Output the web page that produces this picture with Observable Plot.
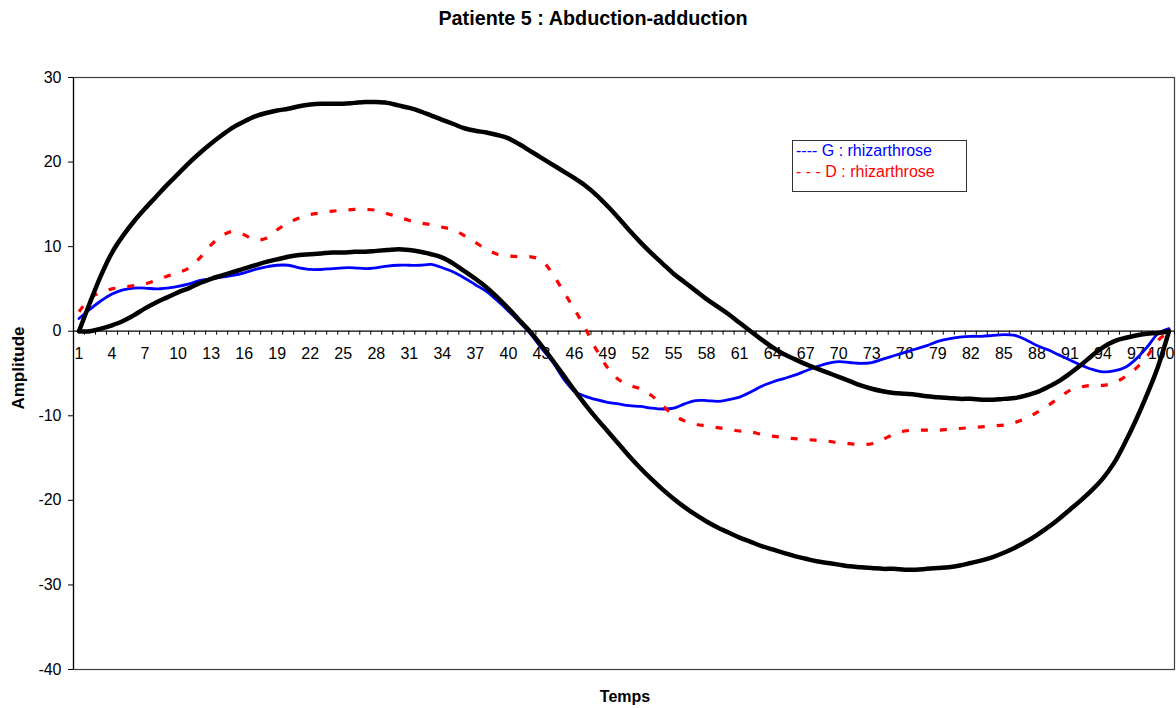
<!DOCTYPE html>
<html>
<head>
<meta charset="utf-8">
<script src="https://cdn.jsdelivr.net/npm/d3@7"></script>
<script src="https://cdn.jsdelivr.net/npm/@observablehq/plot@0.6"></script>
<style>
  html, body { margin: 0; padding: 0; background: #fff; }
  #wrap { position: relative; width: 1176px; height: 708px; font-family: "Liberation Sans", Arial, sans-serif; overflow: hidden; }
  #wrap svg { position: absolute; left: 0; top: 0; }
  .title { position: absolute; left: 0; top: 7px; width: 1186px; text-align: center; font-weight: bold; font-size: 19.8px; color: #000; }
  .ylab { position: absolute; left: 19px; top: 368px; transform: translate(-50%, -50%) rotate(-90deg); font-weight: bold; font-size: 17px; white-space: nowrap; }
  .xlab { position: absolute; left: 625px; top: 697px; transform: translate(-50%, -50%); font-weight: bold; font-size: 16px; white-space: nowrap; }
  .legend { position: absolute; left: 792px; top: 140px; width: 170px; height: 50px; border: 1.5px solid #333; background: #fff; font-size: 16px; line-height: 20.5px; padding: 0 0 0 3px; box-sizing: content-box; }
  .legend div { white-space: nowrap; }
</style>
</head>
<body>
<div id="wrap">
  <div class="title">Patiente 5 : Abduction-adduction</div>
  <div class="ylab">Amplitude</div>
  <div class="xlab">Temps</div>
</div>
<script>
// x categories (time, 1..100)
const temps = d3.range(1, 101);

// Normal upper bound (black)
const normeHaute = [
  0, 3.4, 6.6, 9.3, 11.3, 13.0, 14.5, 15.9, 17.3, 18.6,
  19.9, 21.1, 22.2, 23.2, 24.1, 24.8, 25.4, 25.8, 26.1, 26.3,
  26.6, 26.8, 26.9, 26.9, 26.9, 27.0, 27.1, 27.1, 27.0, 26.7,
  26.4, 26.0, 25.5, 25.0, 24.5, 24.0, 23.7, 23.5, 23.2, 22.8,
  22.1, 21.3, 20.5, 19.7, 18.9, 18.1, 17.2, 16.1, 14.8, 13.4,
  11.9, 10.5, 9.2, 8.0, 6.8, 5.8, 4.8, 3.8, 2.9, 2.0,
  1.0, 0.0, -1.0, -1.9, -2.7, -3.3, -3.9, -4.4, -4.9, -5.4,
  -5.9, -6.4, -6.8, -7.1, -7.3, -7.4, -7.5, -7.7, -7.8, -7.9,
  -8.0, -8.0, -8.1, -8.1, -8.0, -7.9, -7.6, -7.2, -6.6, -5.9,
  -5.0, -4.0, -2.9, -1.9, -1.2, -0.8, -0.5, -0.3, -0.2, 0
];

// Normal lower bound (black)
const normeBasse = [
  0, 0.0, 0.3, 0.7, 1.2, 1.9, 2.7, 3.4, 4.0, 4.6,
  5.1, 5.7, 6.2, 6.6, 7.0, 7.4, 7.8, 8.2, 8.5, 8.8,
  9.0, 9.1, 9.2, 9.3, 9.3, 9.4, 9.4, 9.5, 9.6, 9.7,
  9.6, 9.4, 9.1, 8.7, 8.0, 7.1, 6.2, 5.2, 4.0, 2.7,
  1.3, -0.1, -1.7, -3.4, -5.2, -7.0, -8.7, -10.3, -11.8, -13.3,
  -14.8, -16.2, -17.5, -18.7, -19.8, -20.8, -21.7, -22.5, -23.2, -23.8,
  -24.4, -24.9, -25.4, -25.8, -26.2, -26.6, -26.9, -27.2, -27.4, -27.6,
  -27.8, -27.9, -28.0, -28.1, -28.1, -28.2, -28.2, -28.1, -28.0, -27.9,
  -27.7, -27.4, -27.1, -26.7, -26.2, -25.6, -24.9, -24.1, -23.2, -22.2,
  -21.1, -20.0, -18.8, -17.4, -15.6, -13.2, -10.5, -7.5, -4.2, 0
];

// G : rhizarthrose (blue)
const gauche = [
  1.5, 2.6, 3.6, 4.4, 4.9, 5.1, 5.1, 5.0, 5.1, 5.3,
  5.6, 6.0, 6.2, 6.4, 6.6, 6.9, 7.3, 7.6, 7.8, 7.8,
  7.5, 7.3, 7.3, 7.4, 7.5, 7.5, 7.4, 7.5, 7.7, 7.8,
  7.8, 7.8, 7.9, 7.5, 7.0, 6.3, 5.5, 4.7, 3.6, 2.4,
  1.1, -0.3, -2.0, -3.6, -5.6, -7.1, -7.7, -8.1, -8.4, -8.6,
  -8.8, -8.9, -9.1, -9.2, -9.1, -8.6, -8.2, -8.2, -8.3, -8.1,
  -7.8, -7.2, -6.5, -6.0, -5.6, -5.2, -4.7, -4.2, -3.8, -3.6,
  -3.7, -3.8, -3.7, -3.3, -2.9, -2.5, -2.1, -1.7, -1.2, -0.9,
  -0.7, -0.6, -0.6, -0.5, -0.4, -0.5, -1.0, -1.7, -2.2, -2.8,
  -3.4, -4.0, -4.5, -4.8, -4.7, -4.3, -3.3, -1.9, -0.3, 0.3
];

// D : rhizarthrose (red, dashed)
const droite = [
  2.3, 3.9, 4.6, 5.0, 5.2, 5.4, 5.6, 6.0, 6.5, 6.9,
  7.5, 8.7, 10.2, 11.3, 11.8, 11.4, 10.8, 11.0, 12.0, 12.8,
  13.4, 13.8, 14.0, 14.2, 14.3, 14.4, 14.4, 14.3, 13.9, 13.5,
  13.1, 12.8, 12.6, 12.3, 12.0, 11.3, 10.5, 9.7, 9.1, 8.9,
  8.8, 8.8, 8.4, 6.8, 4.7, 2.6, 0.3, -2.2, -4.3, -5.7,
  -6.4, -6.8, -7.6, -8.8, -9.9, -10.6, -11.0, -11.2, -11.4, -11.6,
  -11.8, -11.9, -12.2, -12.4, -12.6, -12.7, -12.8, -12.9, -13.0, -13.2,
  -13.3, -13.4, -13.3, -12.8, -12.2, -11.8, -11.7, -11.7, -11.7, -11.6,
  -11.5, -11.4, -11.3, -11.2, -11.1, -10.8, -10.3, -9.6, -8.8, -7.9,
  -7.0, -6.6, -6.4, -6.4, -6.1, -5.4, -4.4, -3.0, -1.1, 0
];

const xTickLabels = [1, 4, 7, 10, 13, 16, 19, 22, 25, 28, 31, 34, 37, 40, 43, 46, 49, 52, 55, 58, 61, 64, 67, 70, 73, 76, 79, 82, 85, 88, 91, 94, 97, 100];
const yTicks = [-40, -30, -20, -10, 0, 10, 20, 30];
const seriesNames = ["G : rhizarthrose", "D : rhizarthrose"];

// category boundaries for the small x tick marks
const bounds = temps.map(t => t - 0.5).concat([temps[temps.length - 1] + 0.5]);
const lastLabel = xTickLabels.slice(-1);
const otherLabels = xTickLabels.slice(0, -1);

const chart = Plot.plot({
  width: 1176,
  height: 708,
  marginLeft: 73,
  marginRight: 2,
  marginTop: 77,
  marginBottom: 39,
  x: { domain: [0.5, 100.5], axis: null },
  y: { domain: [-40, 30], axis: null },
  style: { fontFamily: "'Liberation Sans', Arial, sans-serif", fontSize: "16px", color: "#000", background: "transparent", overflow: "visible" },
  marks: [
    Plot.frame({ stroke: "#404040", strokeWidth: 1.2 }),
    Plot.ruleX([0.5], { stroke: "#000", strokeWidth: 1.2 }),
    Plot.axisY({ ticks: yTicks, tickSize: 5, tickPadding: 7, label: null, fontSize: 16, stroke: "#000", tickFormat: d => String(d) }),
    Plot.ruleY([0], { stroke: "#000", strokeWidth: 1.2 }),
    Plot.ruleX(bounds, { x: d => d, y1: 0, y2: 0, insetBottom: -4, stroke: "#000", strokeWidth: 1 }),
    Plot.text(otherLabels, { x: d => d, y: 0, dy: 23, text: d => String(d), fontSize: 16, fill: "#000" }),
    Plot.text(lastLabel, { x: d => d, y: 0, dy: 23, dx: -8, text: d => String(d), fontSize: 16, fill: "#000" }),
    Plot.line(temps, { x: temps, y: gauche, stroke: "#0000ff", strokeWidth: 2.8, curve: "catmull-rom" }),
    Plot.line(temps, { x: temps, y: droite, stroke: "#ff0000", strokeWidth: 3.2, strokeDasharray: "7,12", strokeLinecap: "butt", curve: "catmull-rom" }),
    Plot.line(temps, { x: temps, y: normeHaute, stroke: "#000", strokeWidth: 4.5, curve: "catmull-rom" }),
    Plot.line(temps, { x: temps, y: normeBasse, stroke: "#000", strokeWidth: 4.5, curve: "catmull-rom" })
  ]
});

const wrap = document.getElementById("wrap");
wrap.insertBefore(chart, wrap.firstChild);

const legend = document.createElement("div");
legend.className = "legend";
legend.innerHTML =
  '<div style="color:#0000ff">---- ' + seriesNames[0] + '</div>' +
  '<div style="color:#ff0000">- - - ' + seriesNames[1] + '</div>';
wrap.appendChild(legend);
</script>
</body>
</html>
